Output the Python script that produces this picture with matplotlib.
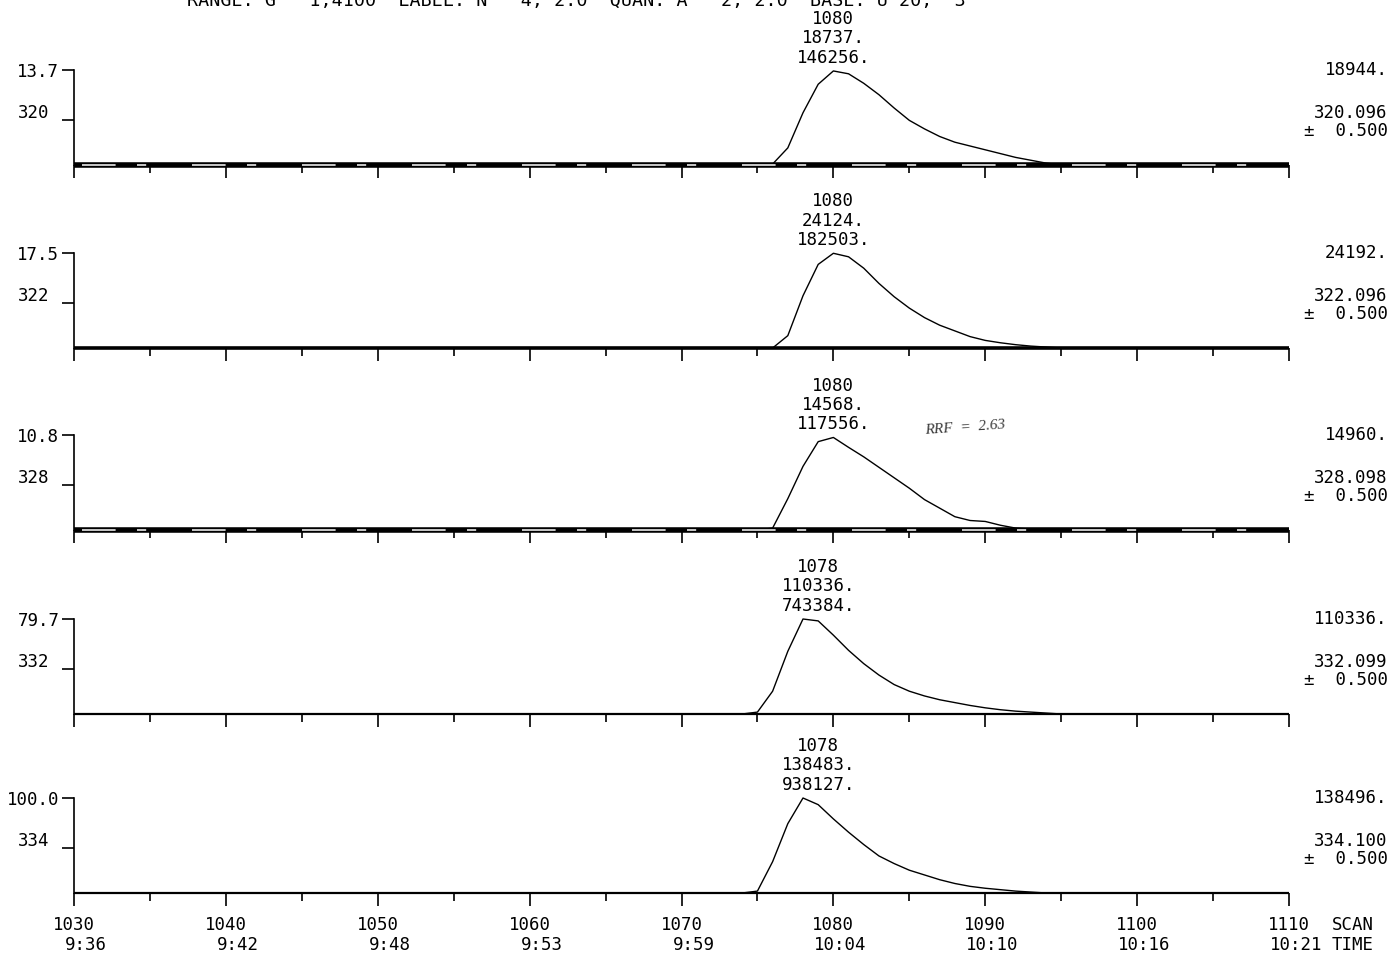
import matplotlib
matplotlib.use("Agg")
import matplotlib.pyplot as plt
from matplotlib.ticker import MultipleLocator

# ---------------- data ----------------
scans = list(range(1073, 1097))
# intensity as percent of each panel's full scale
pct_320 = [0, 0, 0, 1, 18, 55, 85, 99, 96, 86, 74, 60, 47, 38, 30, 24, 20, 16, 12, 8, 5, 2, 0, 0]
pct_322 = [0, 0, 0, 0, 13, 55, 88, 99.7, 96, 84, 68, 54, 42, 32, 24, 18, 12, 8, 5.5, 3.5, 2, 1, 0, 0]
pct_328 = [0, 0, 0, 2, 33, 67, 93, 97.4, 87, 77, 66, 55, 44, 32, 23, 14, 10, 9, 5, 2, 1, 0, 0, 0]
pct_332 = [0, 0, 2, 24, 66, 100, 98, 83, 67, 53, 41, 31, 24, 19, 15, 12, 9, 6.5, 4.5, 3, 2, 1, 0, 0]
pct_334 = [0, 0, 2, 33, 73, 100, 93, 78, 64, 51, 39, 31, 24, 19, 14, 10, 7, 5, 3.5, 2, 1, 0, 0, 0]
traces = [pct_320, pct_322, pct_328, pct_332, pct_334]

scale_max = ["13.7", "17.5", "10.8", "79.7", "100.0"]
masses = ["320", "322", "328", "332", "334"]
peak_scan = ["1080", "1080", "1080", "1078", "1078"]
peak_height = ["18737.", "24124.", "14568.", "110336.", "138483."]
peak_area = ["146256.", "182503.", "117556.", "743384.", "938127."]
full_scale = ["18944.", "24192.", "14960.", "110336.", "138496."]
exact_mass = ["320.096", "322.096", "328.098", "332.099", "334.100"]
tolerance = "0.500"
scan_ticks = [1030, 1040, 1050, 1060, 1070, 1080, 1090, 1100, 1110]
time_labels = ["9:36", "9:42", "9:48", "9:53", "9:59", "10:04", "10:10", "10:16", "10:21"]
header = "RANGE: G   1,4100  LABEL: N   4, 2.0  QUAN: A   2, 2.0  BASE: U 20,  3"
note = "RRF  =  2.63"

# ---------------- layout ----------------
W, H = 1393, 956
fig = plt.figure(figsize=(W / 100, H / 100), dpi=100)
fig.patch.set_facecolor("white")
MONO = "DejaVu Sans Mono"
FS = 12.5

x0_px, x1_px = 74, 1289
baselines_px = [165, 348, 530, 714, 893]
panel_h_px = 95
spine_lw = [4.0, 2.6, 4.0, 1.6, 1.6]
noisy = [True, False, True, False, False]
mass_tick = 47
annot_shift = [0, 0, 0, 1, 1]

fig.text(187 / W, 1.0 - 1 / H, header, ha="left", va="center",
         family=MONO, fontsize=13.2, color="black")

for i in range(5):
    b = baselines_px[i]
    ax = fig.add_axes([x0_px / W, 1 - b / H, (x1_px - x0_px) / W, panel_h_px / H])
    ax.set_facecolor("none")
    ax.set_xlim(1030, 1110)
    ax.set_ylim(0, 100)
    for s in ("top", "right"):
        ax.spines[s].set_visible(False)
    ax.spines["left"].set_linewidth(1.2)
    ax.spines["bottom"].set_linewidth(spine_lw[i])
    ax.spines["bottom"].set_capstyle("butt")
    if noisy[i]:
        ax.plot([1030.5, 1109.5], [0, 0], color="white", lw=1.1,
                ls=(0, (22, 14, 6, 30)), clip_on=False, zorder=5)

    ax.xaxis.set_major_locator(MultipleLocator(10))
    ax.xaxis.set_minor_locator(MultipleLocator(5))
    ax.tick_params(axis="x", which="major", direction="out", length=9.5, width=1.2,
                   labelbottom=False)
    ax.tick_params(axis="x", which="minor", direction="out", length=5.5, width=1.2)
    ax.set_yticks([mass_tick, 100])
    ax.set_yticklabels(["", scale_max[i]], family=MONO, fontsize=FS)
    ax.tick_params(axis="y", direction="out", length=8.5, width=1.2, pad=2)

    ax.plot(scans, traces[i], color="black", lw=1.0, clip_on=False, zorder=4)

    # peak annotation
    k = traces[i].index(max(traces[i]))
    ax.annotate("\n".join([peak_scan[i], peak_height[i], peak_area[i]]),
                xy=(scans[k] + annot_shift[i], max(traces[i])), xytext=(0, 3),
                textcoords="offset points", ha="center", va="bottom",
                multialignment="center", linespacing=1.1,
                family=MONO, fontsize=FS, annotation_clip=False)

    # mass label on the left
    ax.annotate(masses[i], xy=(0, mass_tick), xycoords=("axes fraction", "data"),
                xytext=(-18, 5), textcoords="offset points", ha="right", va="center",
                family=MONO, fontsize=FS, annotation_clip=False)

    # right-hand info
    for txt, yv in ((full_scale[i], 100), (exact_mass[i], 55), ("\u00b1  " + tolerance, 36)):
        ax.annotate(txt, xy=(1, yv), xycoords=("axes fraction", "data"),
                    xytext=(71, 0), textcoords="offset points", ha="right", va="center",
                    family=MONO, fontsize=FS, annotation_clip=False)

    if i == 2:
        ax.annotate(note, xy=(1086, 108), xycoords="data", ha="left", va="center",
                    fontsize=11, fontstyle="italic", family="Liberation Serif",
                    color="#3a3a3a", rotation=4, annotation_clip=False)

    if i == 4:
        for sv, tl in zip(scan_ticks, time_labels):
            ax.annotate(str(sv), xy=(sv, 0), xycoords="data", xytext=(0, -23),
                        textcoords="offset points", ha="center", va="center",
                        family=MONO, fontsize=FS, annotation_clip=False)
            ax.annotate(tl, xy=(sv, 0), xycoords="data", xytext=(24, -37.5),
                        textcoords="offset points", ha="right", va="center",
                        family=MONO, fontsize=FS, annotation_clip=False)
        ax.annotate("SCAN", xy=(1, 0), xycoords="axes fraction", xytext=(31, -23),
                    textcoords="offset points", ha="left", va="center",
                    family=MONO, fontsize=FS, annotation_clip=False)
        ax.annotate("TIME", xy=(1, 0), xycoords="axes fraction", xytext=(31, -37.5),
                    textcoords="offset points", ha="left", va="center",
                    family=MONO, fontsize=FS, annotation_clip=False)

fig.savefig("out.png", dpi=100, facecolor="white")
